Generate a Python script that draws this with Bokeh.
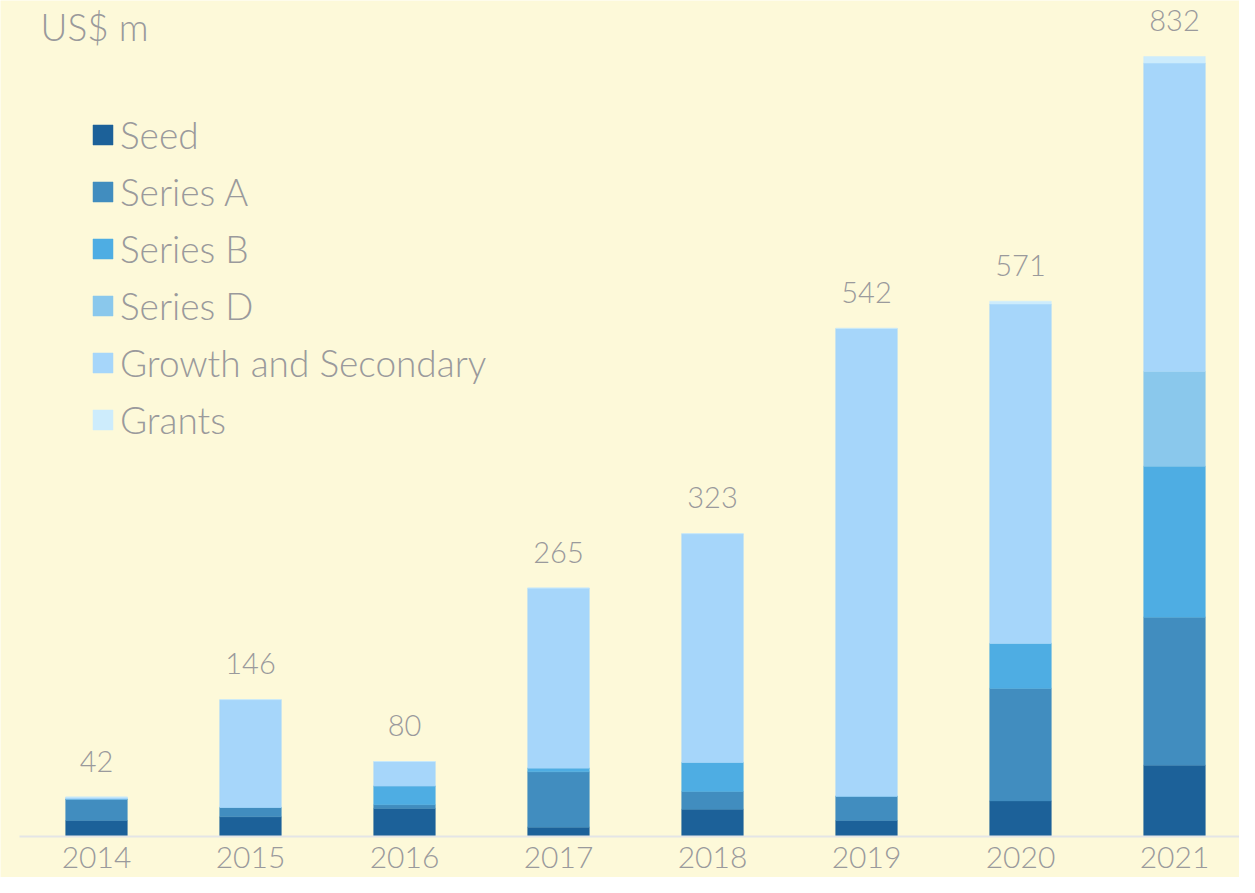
from bokeh.plotting import figure
from bokeh.models import ColumnDataSource, Legend, LegendItem, Label
from bokeh.embed import file_html
from bokeh.resources import INLINE
from bokeh.core.properties import value

years = ["2014", "2015", "2016", "2017", "2018", "2019", "2020", "2021"]
seed = [17, 21, 30, 10, 29, 17, 38, 76]
series_a = [23, 10, 4, 59, 19, 26, 120, 158]
series_b = [0, 0, 20, 4, 31, 0, 48, 161]
series_d = [0, 0, 0, 0, 0, 0, 0, 101]
growth = [2, 115, 26, 192, 244, 499, 362, 329]
grants = [0, 0, 0, 0, 0, 0, 3, 7]
totals = [42, 146, 80, 265, 323, 542, 571, 832]

names = ["Seed", "Series A", "Series B", "Series D", "Growth and Secondary", "Grants"]
series = [seed, series_a, series_b, series_d, growth, grants]
colors = ["#1c6199", "#418dbf", "#4eade3", "#8ac8ec", "#a6d6fa", "#cdecfc"]

BG = "#fdf9d9"
TXT = "#9a9a9c"
FONT_STR = "'Lato Light', Lato, 'Liberation Sans', sans-serif"
FONT = value(FONT_STR)

W, H = 1239, 877
ppu = 0.9375          # pixels per data unit (vertical)
base_px = 836         # baseline position from top of figure
slot = 154.0          # pixels per category
first_center = 96.0

xs = list(range(len(years)))

p = figure(width=W, height=H, output_backend="svg", toolbar_location=None,
           x_range=(-first_center / slot, (W - first_center) / slot),
           y_range=(-(H - base_px) / ppu, base_px / ppu),
           x_axis_type=None, y_axis_type=None, min_border=0,
           background_fill_color=BG, border_fill_color=BG,
           outline_line_color=None)
p.xgrid.visible = False
p.ygrid.visible = False

bottoms = [0.0] * len(years)
renderers = []
for name, vals, col in zip(names, series, colors):
    tops = [b + v for b, v in zip(bottoms, vals)]
    src = ColumnDataSource(dict(x=xs, bottom=bottoms, top=tops))
    r = p.vbar(x="x", bottom="bottom", top="top", width=0.4, source=src,
               fill_color=col, line_color=col, line_width=0.5)
    renderers.append(r)
    bottoms = tops

# baseline
p.segment(x0=[-0.5], y0=[0], x1=[7.5], y1=[0], line_color="#e4e5e6", line_width=2)

# totals above bars
tsrc = ColumnDataSource(dict(x=xs, y=totals, t=[str(v) for v in totals]))
p.text(x="x", y="y", text="t", source=tsrc, text_align="center",
       text_baseline="alphabetic", y_offset=-36, text_color=TXT,
       text_font=FONT, text_font_size="29px")

# year labels
ysrc = ColumnDataSource(dict(x=xs, y=[0] * len(years), t=years))
p.text(x="x", y="y", text="t", source=ysrc, text_align="center",
       text_baseline="alphabetic", y_offset=21, text_color=TXT,
       text_font=FONT, text_font_size="30px")

# unit label
p.add_layout(Label(x=40, y=H - 3, x_units="screen", y_units="screen",
                   text="US$ m", text_color=TXT, text_font=FONT_STR,
                   text_font_size="37px", text_baseline="top"))

legend = Legend(items=[LegendItem(label=n, renderers=[r]) for n, r in zip(names, renderers)],
                location=(90, H - 442), orientation="vertical",
                background_fill_alpha=0, border_line_color=None,
                label_text_color=TXT, label_text_font=FONT_STR,
                label_text_font_size="37px", glyph_width=25, glyph_height=25,
                label_standoff=5, spacing=12, label_height=40, padding=15, margin=0)
p.add_layout(legend)

open("out.html", "w").write(file_html(p, INLINE))
